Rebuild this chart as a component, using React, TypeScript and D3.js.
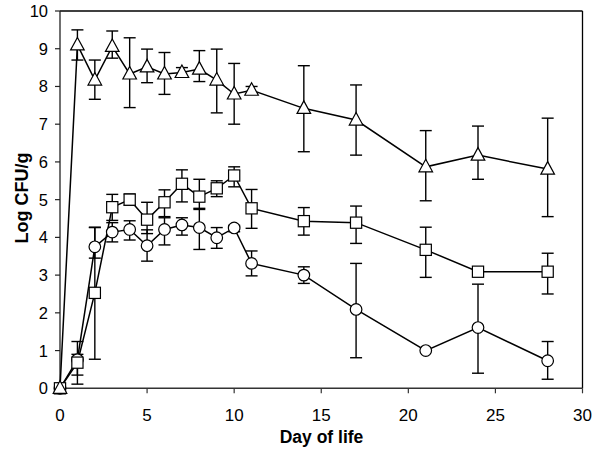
import React from "react";
import * as d3 from "d3";

const days = [0, 1, 2, 3, 4, 5, 6, 7, 8, 9, 10, 11, 14, 17, 21, 24, 28];

const triMean = [0, 9.1, 8.17, 9.06, 8.33, 8.52, 8.33, 8.37, 8.46, 8.17, 7.8, 7.9, 7.42, 7.11, 5.87, 6.18, 5.81];
const triHi = [null, 9.5, 8.7, 9.47, 9.29, 8.99, 8.9, 8.5, 8.95, 8.99, 8.61, 8.0, 8.55, 8.04, 6.83, 6.95, 7.16];
const triLo = [null, 8.7, 7.66, 8.75, 7.44, 8.1, 7.79, 8.25, 8.13, 7.3, 7.0, 7.8, 6.27, 6.18, 4.97, 5.54, 4.55];

const sqMean = [0, 0.68, 2.53, 4.8, 5.0, 4.47, 4.93, 5.42, 5.08, 5.3, 5.64, 4.77, 4.43, 4.39, 3.67, 3.09, 3.09];
const sqHi = [null, 0.9, 4.26, 5.14, 5.15, 4.93, 5.26, 5.79, 5.54, 5.5, 5.87, 5.27, 4.79, 4.83, 4.27, 3.2, 3.58];
const sqLo = [null, 0.11, 0.77, 4.45, 4.85, 4.1, 4.55, 4.94, 4.77, 5.08, 5.34, 4.24, 4.06, 3.84, 2.94, 3.0, 2.5];

const cirMean = [0, 0.76, 3.75, 4.14, 4.21, 3.78, 4.21, 4.33, 4.26, 3.99, 4.25, 3.31, 3.0, 2.09, 1.0, 1.61, 0.73];
const cirHi = [null, 1.24, 4.27, 4.39, 4.44, 4.2, 4.52, 4.52, 4.74, 4.26, 4.32, 3.64, 3.22, 3.31, null, 2.76, 1.24];
const cirLo = [null, 0.35, 3.45, 3.88, 3.93, 3.37, 3.8, 4.06, 3.68, 3.71, 4.15, 2.98, 2.78, 0.81, null, 0.4, 0.24];

const xTicks = [0, 5, 10, 15, 20, 25, 30];
const yTicks = [0, 1, 2, 3, 4, 5, 6, 7, 8, 9, 10];

const xLabel = "Day of life";
const yLabel = "Log CFU/g";

const W = 600, H = 450;
const x = d3.scaleLinear().domain([0, 30]).range([60, 582.5]);
const y = d3.scaleLinear().domain([0, 10]).range([388.3, 11]);

type Series = { mean: number[]; hi: (number | null)[]; lo: (number | null)[]; shape: string };
const series: Series[] = [
  { mean: cirMean, hi: cirHi, lo: cirLo, shape: "circle" },
  { mean: sqMean, hi: sqHi, lo: sqLo, shape: "square" },
  { mean: triMean, hi: triHi, lo: triLo, shape: "triangle" },
];

const font = "Arial, 'Liberation Sans', sans-serif";

function Marker({ shape, cx, cy }: { shape: string; cx: number; cy: number }) {
  const st = { fill: "#fff", stroke: "#000", strokeWidth: 1.2 };
  if (shape === "circle") return <circle cx={cx} cy={cy} r={5.8} {...st} />;
  if (shape === "square") return <rect x={cx - 5.6} y={cy - 5.6} width={11.2} height={11.2} {...st} />;
  return <path d={`M${cx},${cy - 7.5}L${cx + 6.8},${cy + 5}L${cx - 6.8},${cy + 5}Z`} {...st} />;
}

export default function App() {
  const line = d3.line<number>().x((_, i) => x(days[i])).y((v) => y(v));
  return (
    <svg width={W} height={H} style={{ position: "absolute", left: 0, top: 0, background: "#fff" }}>
      <rect x={0} y={0} width={W} height={H} fill="#fff" />
      {/* frame */}
      <line x1={x(0)} x2={x(30)} y1={y(10)} y2={y(10)} stroke="#000" strokeWidth={1.3} />
      <line x1={x(30)} x2={x(30)} y1={y(10)} y2={y(0)} stroke="#000" strokeWidth={1.3} />
      <line x1={x(0)} x2={x(0)} y1={y(10)} y2={y(0)} stroke="#222" strokeWidth={1.3} />
      <line x1={x(0)} x2={x(30)} y1={y(0)} y2={y(0)} stroke="#333" strokeWidth={1.5} />
      {yTicks.map((t) => (
        <g key={"y" + t}>
          <line x1={x(0) - 5} x2={x(0)} y1={y(t)} y2={y(t)} stroke="#222" strokeWidth={1.2} />
          <text x={48} y={y(t)} dy="0.36em" textAnchor="end" fontFamily={font} fontSize={16.5} fill="#000">
            {t}
          </text>
        </g>
      ))}
      {xTicks.map((t) => (
        <g key={"x" + t}>
          <line x1={x(t)} x2={x(t)} y1={y(0)} y2={y(0) + 5} stroke="#333" strokeWidth={1.2} />
          <text x={x(t)} y={421} textAnchor="middle" fontFamily={font} fontSize={17} fill="#000">
            {t}
          </text>
        </g>
      ))}
      <text x={321.5} y={442.5} textAnchor="middle" fontFamily={font} fontSize={17.5} fontWeight="bold">
        {xLabel}
      </text>
      <text
        transform={`translate(28,198) rotate(-90)`}
        textAnchor="middle"
        fontFamily={font}
        fontSize={18}
        fontWeight="bold"
      >
        {yLabel}
      </text>
      {/* lines */}
      {series.map((s, k) => (
        <path key={"l" + k} d={line(s.mean) || ""} fill="none" stroke="#000" strokeWidth={1.5} />
      ))}
      {/* error bars */}
      {series.map((s, k) => (
        <g key={"e" + k} stroke="#000" strokeWidth={1.4}>
          {s.mean.map((m, i) => {
            const hi = s.hi[i], lo = s.lo[i];
            if (hi == null || lo == null) return null;
            const cx = x(days[i]);
            return (
              <g key={i}>
                <line x1={cx} x2={cx} y1={y(hi)} y2={y(lo)} />
                <line x1={cx - 6} x2={cx + 6} y1={y(hi)} y2={y(hi)} />
                <line x1={cx - 6} x2={cx + 6} y1={y(lo)} y2={y(lo)} />
              </g>
            );
          })}
        </g>
      ))}
      {/* markers */}
      {series.map((s, k) => (
        <g key={"m" + k}>
          {s.mean.map((m, i) => (
            <Marker key={i} shape={s.shape} cx={x(days[i])} cy={y(m)} />
          ))}
        </g>
      ))}
    </svg>
  );
}
